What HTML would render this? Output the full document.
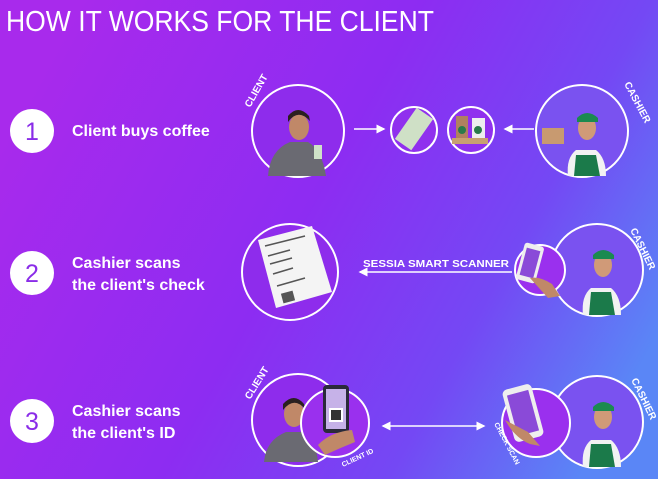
<!DOCTYPE html>
<html><head><meta charset="utf-8"><style>
html,body{margin:0;padding:0;width:658px;height:479px;overflow:hidden}
body{font-family:"Liberation Sans",sans-serif}
</style></head><body>
<svg width="658" height="479" viewBox="0 0 658 479" xmlns="http://www.w3.org/2000/svg">
<defs>
<linearGradient id="bg" x1="0" y1="0.3" x2="1" y2="0.7">
<stop offset="0" stop-color="#a82aec"/>
<stop offset="0.45" stop-color="#8d2cf2"/>
<stop offset="0.75" stop-color="#7448f4"/>
<stop offset="1" stop-color="#5a86f6"/>
</linearGradient>
<marker id="ah" markerWidth="6" markerHeight="6" refX="5" refY="3" orient="auto"><path d="M0,0 L6,3 L0,6 Z" fill="#fff"/></marker>
<marker id="ahs" markerWidth="6" markerHeight="6" refX="1" refY="3" orient="auto"><path d="M6,0 L0,3 L6,6 Z" fill="#fff"/></marker>
</defs>
<rect width="658" height="479" fill="url(#bg)"/>
<text x="6" y="31" fill="#fff" font-size="29" textLength="428" lengthAdjust="spacingAndGlyphs">HOW IT WORKS FOR THE CLIENT</text>

<g fill="#fff">
<circle cx="32" cy="131" r="22"/><circle cx="32" cy="273" r="22"/><circle cx="32" cy="421" r="22"/>
</g>
<g fill="#8a2ce8" font-size="25" text-anchor="middle">
<text x="32" y="140">1</text><text x="32" y="282">2</text><text x="32" y="430">3</text>
</g>
<g fill="#fff" font-size="16" font-weight="bold">
<text x="72" y="136">Client buys coffee</text>
<text x="72" y="268">Cashier scans</text><text x="72" y="290">the client's check</text>
<text x="72" y="416">Cashier scans</text><text x="72" y="438">the client's ID</text>
</g>

<g>
<circle cx="298" cy="131" r="46" fill="#8e2cec" stroke="#fff" stroke-width="2"/>
<path d="M268,176 Q270,150 290,142 L308,142 Q322,150 326,176 Z" fill="#6a6a72"/>
<ellipse cx="299" cy="127" rx="10" ry="13" fill="#c08868"/>
<path d="M288,122 Q298,108 310,121 L309,116 Q298,104 288,116Z" fill="#2a2020"/>
<rect x="314" y="145" width="8" height="14" fill="#cfe2c8"/>
</g>
<g>
<circle cx="298" cy="420" r="46" fill="#8e2cec" stroke="#fff" stroke-width="2"/>
<path d="M264,462 Q266,440 286,432 L304,432 Q316,440 318,462 Z" fill="#6a6a72"/>
<ellipse cx="294" cy="414" rx="10" ry="13" fill="#c08868"/>
<path d="M283,410 Q294,396 305,409 L304,404 Q294,392 283,404Z" fill="#2a2020"/>
<circle cx="335" cy="423" r="34" fill="#9a30ee" stroke="#fff" stroke-width="2"/>
<rect x="323" y="385" width="26" height="48" rx="4" fill="#2a2a3a"/>
<rect x="326" y="389" width="20" height="40" fill="#c6b2e8"/>
<rect x="329" y="408" width="14" height="14" fill="#fff"/>
<rect x="331" y="410" width="10" height="10" fill="#333"/>
<path d="M318,445 Q330,432 352,430 L355,442 Q340,448 325,455Z" fill="#c08868"/>
</g>

<g>
<circle cx="414" cy="130" r="23" fill="#9030ee" stroke="#fff" stroke-width="2"/>
<rect x="395" y="119" width="38" height="20" fill="#cfe0c6" transform="rotate(-55 414 129)"/>
<circle cx="471" cy="130" r="23" fill="#9030ee" stroke="#fff" stroke-width="2"/>
<rect x="456" y="116" width="12" height="24" fill="#b08060"/><rect x="472" y="118" width="13" height="22" fill="#eee"/>
<circle cx="462" cy="130" r="4" fill="#2a7a4a"/><circle cx="478" cy="130" r="4" fill="#2a7a4a"/>
<rect x="452" y="138" width="36" height="6" fill="#c8a070"/>
</g>

<g>
<circle cx="582" cy="131" r="46" fill="#7a52f0" stroke="#fff" stroke-width="2"/>
<path d="M568,176 Q566,158 576,150 L596,150 Q606,158 606,176 Z" fill="#f2f2f2"/>
<path d="M574,176 L576,155 L596,155 L600,176Z" fill="#1b7a4a"/>
<ellipse cx="587" cy="128" rx="9" ry="12" fill="#d09a78"/>
<path d="M577,118 Q587,108 598,118 L598,122 L577,122Z" fill="#1b8a50"/>
<rect x="542" y="128" width="22" height="16" fill="#c89a70"/>
</g>

<g>
<circle cx="290" cy="272" r="48" fill="#8e2cec" stroke="#fff" stroke-width="2"/>
<path d="M258,240 L312,226 L332,292 L276,308 Z" fill="#f4f4f4"/>
<g stroke="#555" stroke-width="1.5">
<line x1="265" y1="246" x2="305" y2="236"/><line x1="268" y1="256" x2="290" y2="250"/><line x1="270" y1="264" x2="292" y2="258"/>
<line x1="273" y1="274" x2="293" y2="268"/><line x1="277" y1="286" x2="305" y2="278"/>
</g>
<rect x="282" y="292" width="12" height="10" fill="#555" transform="rotate(-15 288 297)"/>
</g>
<g>
<circle cx="597" cy="270" r="46" fill="#7a52f0" stroke="#fff" stroke-width="2"/>
<path d="M583,315 Q581,296 591,288 L611,288 Q621,296 621,315 Z" fill="#f2f2f2"/>
<path d="M589,315 L591,292 L611,292 L615,315Z" fill="#1b7a4a"/>
<ellipse cx="603" cy="265" rx="9" ry="12" fill="#d09a78"/>
<path d="M593,255 Q603,245 614,255 L614,259 L593,259Z" fill="#1b8a50"/>
<circle cx="540" cy="270" r="25" fill="#9a30ee" stroke="#fff" stroke-width="2"/>
<rect x="520" y="244" width="20" height="38" rx="3" fill="#eee" transform="rotate(15 530 263)"/>
<rect x="523" y="249" width="14" height="28" fill="#8a4ad8" transform="rotate(15 530 263)"/>
<path d="M530,278 Q540,276 552,284 L560,296 L548,298 Z" fill="#c08868"/>
</g>
<text x="363" y="267" fill="#fff" font-size="10" font-weight="bold" textLength="146" lengthAdjust="spacingAndGlyphs">SESSIA SMART SCANNER</text>
<line x1="512" y1="272" x2="360" y2="272" stroke="#fff" stroke-width="1.5" marker-end="url(#ah)"/>

<g>
<circle cx="597" cy="422" r="46" fill="#7a52f0" stroke="#fff" stroke-width="2"/>
<path d="M583,467 Q581,448 591,440 L611,440 Q621,448 621,467 Z" fill="#f2f2f2"/>
<path d="M589,467 L591,444 L611,444 L615,467Z" fill="#1b7a4a"/>
<ellipse cx="603" cy="417" rx="9" ry="12" fill="#d09a78"/>
<path d="M593,407 Q603,397 614,407 L614,411 L593,411Z" fill="#1b8a50"/>
<circle cx="536" cy="423" r="34" fill="#9a30ee" stroke="#fff" stroke-width="2"/>
<rect x="508" y="386" width="30" height="54" rx="5" fill="#eee" transform="rotate(-15 523 413)"/>
<rect x="512" y="392" width="22" height="42" fill="#8a4ad8" transform="rotate(-15 523 413)"/>
<path d="M505,420 Q515,438 530,444 L540,446 L528,432 Z" fill="#c08868"/>
</g>
<line x1="383" y1="426" x2="484" y2="426" stroke="#fff" stroke-width="1.5" marker-start="url(#ahs)" marker-end="url(#ah)"/>

<line x1="354" y1="129" x2="384" y2="129" stroke="#fff" stroke-width="1.5" marker-end="url(#ah)"/>
<line x1="534" y1="129" x2="505" y2="129" stroke="#fff" stroke-width="1.5" marker-end="url(#ah)"/>

<g fill="#fff" font-size="10" font-weight="bold">
<text transform="translate(250,108) rotate(-60)">CLIENT</text>
<text transform="translate(624,84) rotate(62)">CASHIER</text>
<text transform="translate(630,230) rotate(64)">CASHIER</text>
<text transform="translate(250,400) rotate(-58)">CLIENT</text>
<text transform="translate(631,380) rotate(64)">CASHIER</text>
<text transform="translate(343,467) rotate(-25)" font-size="7">CLIENT ID</text>
<text transform="translate(494,424) rotate(62)" font-size="7">CHECK SCAN</text>
</g>
</svg>
</body></html>
